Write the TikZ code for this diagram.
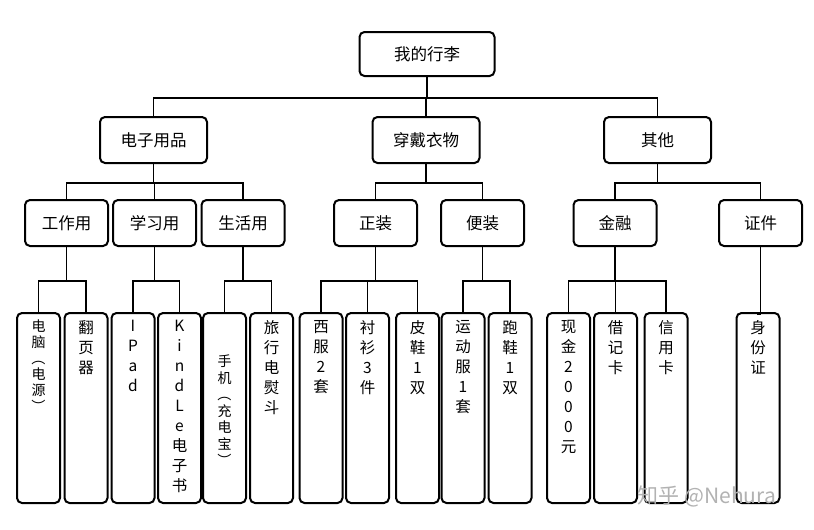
\documentclass[tikz,border=0pt]{standalone}
\usepackage{fontspec}
\setmainfont{Noto Sans CJK SC}
\usepackage{tikz}
\def\leaf#1#2#3#4{\node[leaf] (#1) at (#2,408) {}; \node[leaftext,#3] at (#1.north) {#4};}
\def\link#1#2#3{\draw[wire] (#1.south) -- ++(0,#3) -| (#2.north);}
\def\lp{\rotatebox[origin=c]{-90}{（}}
\def\rp{\rotatebox[origin=c]{-90}{）}}

\begin{document}
\begin{tikzpicture}[x=1pt,y=-1pt,
    box/.style={draw,line width=2pt,rounded corners=5pt,fill=white,
                font=\fontsize{16.5}{16.5}\selectfont},
    top/.style={box,minimum width=135pt,minimum height=44pt},
    mid/.style={box,minimum width=107pt,minimum height=46pt},
    low/.style={box,minimum width=83pt,minimum height=46pt},
    leaf/.style={draw,line width=2pt,rounded corners=5pt,
                 minimum width=43pt,minimum height=190pt},
    leaftext/.style={anchor=north,yshift=-8pt,inner sep=0pt,align=center,
                     font=\fontsize{15.5}{20}\selectfont},
    wire/.style={line width=1.7pt},
    wmark/.style={text=black!30,font=\fontsize{21}{21}\selectfont}]
\useasboundingbox[fill=white] (0,0) rectangle (814,530);

\node[top] (root) at (427,54) {我的行李};

\node[mid] (elec)  at (153.5,140) {电子用品};
\node[mid] (wear)  at (426,140)   {穿戴衣物};
\node[mid] (other) at (657.5,140) {其他};

\node[low] (work)   at (66.5,223)  {工作用};
\node[low] (study)  at (154.5,223) {学习用};
\node[low] (life)   at (243,223)   {生活用};
\node[low] (formal) at (375.5,223) {正装};
\node[low] (casual) at (482.5,223) {便装};
\node[low] (money)  at (615,223)   {金融};
\node[low] (papers) at (760.5,223) {证件};

\leaf{pc}{38.5}{font=\fontsize{14}{16}\selectfont}{电\\脑\\\lp\\电\\源\\\rp}
\leaf{pager}{86}{}{翻\\页\\器}
\leaf{ipad}{133}{}{I\\P\\a\\d}
\leaf{kindle}{179.5}{}{K\\i\\n\\d\\L\\e\\电\\子\\书}
\leaf{phone}{224.5}{yshift=-35pt,font=\fontsize{14}{16.5}\selectfont}{手\\机\\\lp\\充\\电\\宝\\\rp}
\leaf{iron}{271.5}{}{旅\\行\\电\\熨\\斗}
\leaf{suit}{321}{}{西\\服\\2\\套}
\leaf{shirt}{367.5}{}{衬\\衫\\3\\件}
\leaf{shoes}{417.5}{}{皮\\鞋\\1\\双}
\leaf{sport}{463}{}{运\\动\\服\\1\\套}
\leaf{runner}{510}{}{跑\\鞋\\1\\双}
\leaf{cash}{568.5}{}{现\\金\\2\\0\\0\\0\\元}
\leaf{debit}{615.5}{}{借\\记\\卡}
\leaf{credit}{666}{}{信\\用\\卡}
\leaf{idc}{758}{}{身\\份\\证}

% root to groups
\link{root}{elec}{21}
\link{root}{wear}{21}
\link{root}{other}{21}
% groups to kinds
\link{elec}{work}{19}
\link{elec}{study}{19}
\link{elec}{life}{19}
\link{wear}{formal}{19}
\link{wear}{casual}{19}
\link{other}{money}{19}
\link{other}{papers}{19}
% kinds to items
\link{work}{pc}{34}
\link{work}{pager}{34}
\link{study}{ipad}{34}
\link{study}{kindle}{34}
\link{life}{phone}{34}
\link{life}{iron}{34}
\link{formal}{suit}{34}
\link{formal}{shirt}{34}
\link{formal}{shoes}{34}
\link{casual}{sport}{34}
\link{casual}{runner}{34}
\link{money}{cash}{34}
\link{money}{debit}{34}
\link{money}{credit}{34}
\link{papers}{idc}{67}

\node[wmark] (zhihu) at (707,496) {知乎 @Nehura};
\end{tikzpicture}
\end{document}
